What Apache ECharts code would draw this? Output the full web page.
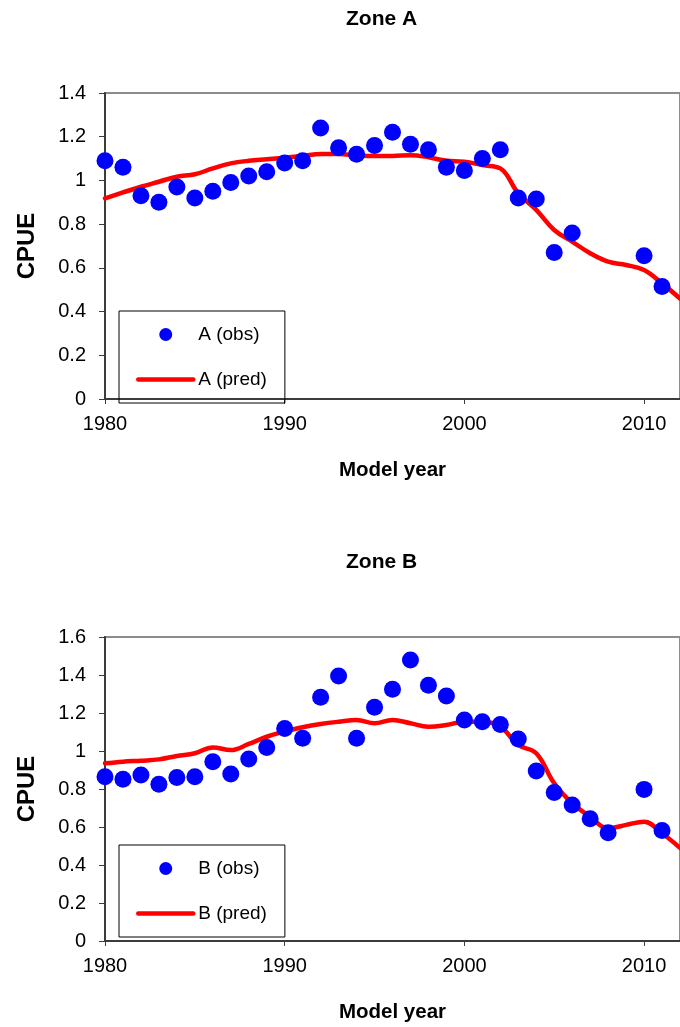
<!DOCTYPE html>
<html>
<head>
<meta charset="utf-8">
<title>CPUE by zone</title>
<script src="https://cdn.jsdelivr.net/npm/echarts@6/dist/echarts.min.js"></script>
<style>
	html, body { margin: 0; padding: 0; background: #fff; }
	#chart { width: 680px; height: 1027px; }
</style>
</head>
<body>
<div id="chart"></div>
<script>
// years with observations (1980-2011) and model years (1980-2012)
var obsYears = [1980, 1981, 1982, 1983, 1984, 1985, 1986, 1987, 1988, 1989, 1990, 1991, 1992, 1993, 1994, 1995,
	1996, 1997, 1998, 1999, 2000, 2001, 2002, 2003, 2004, 2005, 2006, 2007, 2008, 2009, 2010, 2011];
var predYears = obsYears.concat([2012]);

/* Zone A */
var aObs = [1.09, 1.06, 0.93, 0.90, 0.97, 0.92, 0.95, 0.99, 1.02, 1.04, 1.08, 1.09, 1.24, 1.15, 1.12, 1.16,
	1.22, 1.165, 1.14, 1.06, 1.045, 1.10, 1.14, 0.92, 0.915, 0.67, 0.76, null, null, null, 0.655, 0.515];
var aPred = [0.918, 0.945, 0.971, 0.994, 1.017, 1.028, 1.055, 1.078, 1.09, 1.097, 1.104, 1.112, 1.121, 1.121, 1.115, 1.112,
	1.112, 1.115, 1.106, 1.09, 1.086, 1.07, 1.055, 0.941, 0.865, 0.773, 0.72, 0.667, 0.628, 0.613, 0.59, 0.529, 0.46];

/* Zone B */
var bObs = [0.865, 0.851, 0.874, 0.825, 0.86, 0.865, 0.944, 0.879, 0.958, 1.019, 1.119, 1.067, 1.283, 1.395, 1.067, 1.23,
	1.325, 1.479, 1.346, 1.289, 1.163, 1.154, 1.14, 1.063, 0.895, 0.781, 0.716, 0.644, 0.57, null, 0.798, 0.581];
var bPred = [0.935, 0.944, 0.949, 0.956, 0.974, 0.988, 1.019, 1.005, 1.037, 1.075, 1.102, 1.125, 1.142, 1.154, 1.163, 1.146,
	1.163, 1.146, 1.128, 1.137, 1.154, 1.154, 1.128, 1.032, 0.988, 0.83, 0.725, 0.654, 0.593, 0.611, 0.628, 0.567, 0.49];

var xTicks = [1980, 1990, 2000, 2010];

var FONT = "'Liberation Sans', Arial, sans-serif";

function pairs(years, vals) {
	var out = [];
	for (var i = 0; i < years.length; i++) {
		if (vals[i] != null) out.push([years[i], vals[i]]);
	}
	return out;
}

function xAxisFor(gridIndex) {
	return {
		type: 'value',
		gridIndex: gridIndex,
		min: 1980,
		max: 2012,
		interval: 10,
		name: 'Model year',
		nameLocation: 'middle',
		nameGap: 61,
		nameTextStyle: { fontFamily: FONT, fontWeight: 'bold', fontSize: 20.5, color: '#000' },
		axisLine: { show: true, lineStyle: { color: '#3c3c3c', width: 2 } },
		axisTick: { show: true, inside: false, length: 5, lineStyle: { color: '#3c3c3c', width: 1 } },
		axisLabel: {
			margin: 15,
			fontFamily: FONT,
			fontSize: 20,
			color: '#000',
			showMaxLabel: false,
			formatter: function(v) { return xTicks.indexOf(v) >= 0 ? String(v) : ''; }
		},
		splitLine: { show: false }
	};
}

function yAxisFor(gridIndex, max) {
	return {
		type: 'value',
		gridIndex: gridIndex,
		min: 0,
		max: max,
		interval: 0.2,
		name: 'CPUE',
		nameLocation: 'middle',
		nameGap: 66,
		nameRotate: 90,
		nameTextStyle: { fontFamily: FONT, fontWeight: 'bold', fontSize: 24, color: '#000' },
		axisLine: { show: true, lineStyle: { color: '#3c3c3c', width: 2 } },
		axisTick: { show: true, inside: false, length: 6, lineStyle: { color: '#3c3c3c', width: 1 } },
		axisLabel: { margin: 19, fontFamily: FONT, fontSize: 20, color: '#000' },
		splitLine: { show: false }
	};
}

function legendFor(top, obsName, predName) {
	return {
		orient: 'vertical',
		left: 119,
		top: top,
		padding: [14, 18, 14, 17],
		borderColor: '#000',
		borderWidth: 1,
		itemWidth: 55,
		itemHeight: 13,
		itemGap: 26,
		textStyle: { fontFamily: FONT, fontSize: 19, color: '#000' },
		data: [
			{ name: obsName, icon: 'circle' },
			{
				name: predName,
				// thick red bar only, hide the marker the line icon adds
				itemStyle: { opacity: 0 },
				lineStyle: { width: 4.5, color: '#ff0000', cap: 'round', opacity: 1 }
			}
		]
	};
}

function predSeries(name, idx, vals) {
	return {
		name: name,
		type: 'line',
		xAxisIndex: idx,
		yAxisIndex: idx,
		data: pairs(predYears, vals),
		smooth: 0.4,
		symbol: 'none',
		lineStyle: { color: '#ff0000', width: 4.5, cap: 'round' },
		itemStyle: { color: '#ff0000' },
		z: 2
	};
}

function obsSeries(name, idx, vals) {
	return {
		name: name,
		type: 'scatter',
		xAxisIndex: idx,
		yAxisIndex: idx,
		data: pairs(obsYears, vals),
		symbol: 'circle',
		symbolSize: 17,
		itemStyle: { color: '#0000ff', opacity: 1 },
		z: 3
	};
}

var chart = echarts.init(document.getElementById('chart'), null, { renderer: 'canvas' });

var option = {
	backgroundColor: '#fff',
	animation: false,
	title: [{
		text: 'Zone A',
		left: 346,
		top: 9,
		padding: 0,
		textStyle: { fontFamily: FONT, fontWeight: 'bold', fontSize: 21, color: '#000' }
	}, {
		text: 'Zone B',
		left: 346,
		top: 552,
		padding: 0,
		textStyle: { fontFamily: FONT, fontWeight: 'bold', fontSize: 21, color: '#000' }
	}],
	grid: [{
		left: 105, top: 93, width: 587, height: 306,
		show: true, borderColor: '#8c8c8c', borderWidth: 2, backgroundColor: 'transparent'
	}, {
		left: 105, top: 637, width: 587, height: 304,
		show: true, borderColor: '#8c8c8c', borderWidth: 2, backgroundColor: 'transparent'
	}],
	legend: [
		legendFor(311, 'A (obs)', 'A (pred)'),
		legendFor(845, 'B (obs)', 'B (pred)')
	],
	xAxis: [xAxisFor(0), xAxisFor(1)],
	yAxis: [yAxisFor(0, 1.4), yAxisFor(1, 1.6)],
	series: [
		predSeries('A (pred)', 0, aPred),
		obsSeries('A (obs)', 0, aObs),
		predSeries('B (pred)', 1, bPred),
		obsSeries('B (obs)', 1, bObs)
	]
};

chart.setOption(option);
</script>
</body>
</html>
